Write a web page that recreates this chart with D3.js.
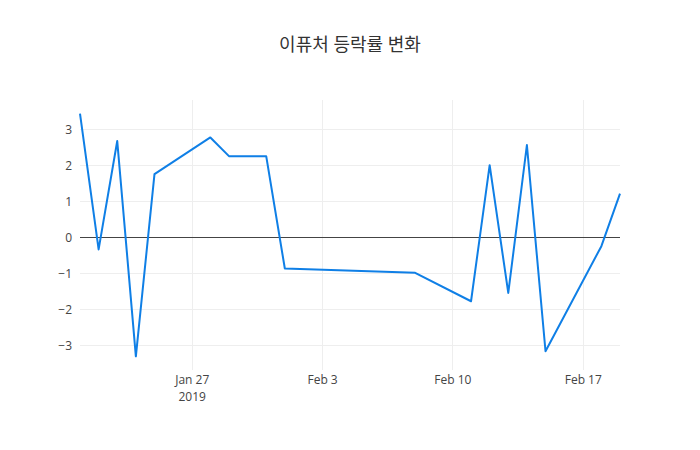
<!DOCTYPE html>
<html>
<head>
<meta charset="utf-8">
<script src="https://cdn.jsdelivr.net/npm/d3@7"></script>
<style>
body { margin: 0; background: #fff; }
svg { display: block; }
</style>
</head>
<body>
<svg id="chart" width="700" height="450"></svg>
<script>
const titleText = "이퓨처 등락률 변화";
const dates = ["2019-01-21","2019-01-22","2019-01-23","2019-01-24","2019-01-25","2019-01-28","2019-01-29","2019-01-31","2019-02-01","2019-02-08","2019-02-11","2019-02-12","2019-02-13","2019-02-14","2019-02-15","2019-02-18","2019-02-19"];
const values = [3.43, -0.34, 2.67, -3.31, 1.75, 2.77, 2.25, 2.25, -0.87, -0.99, -1.78, 2.0, -1.55, 2.56, -3.17, -0.25, 1.21];
const yTicks = [-3, -2, -1, 0, 1, 2, 3];
const xTickDates = ["2019-01-27","2019-02-03","2019-02-10","2019-02-17"];
const xTickLabels = [["Jan 27","2019"],["Feb 3"],["Feb 10"],["Feb 17"]];

const parse = d3.timeParse("%Y-%m-%d");
const data = dates.map((d, i) => ({ date: parse(d), value: values[i] }));

const W = 700, H = 450;
const m = { l: 80, r: 80, t: 100, b: 80 };
const svg = d3.select("#chart");
const font = "'Open Sans', verdana, arial, sans-serif";

const x = d3.scaleTime()
  .domain(d3.extent(data, d => d.date))
  .range([m.l, W - m.r]);
const y = d3.scaleLinear()
  .domain([-3.69, 3.81])
  .range([H - m.b, m.t]);

const crisp = v => Math.round(v) + 0.5;

// grid lines
const g = svg.append("g");
g.selectAll("line.ygrid").data(yTicks.filter(v => v !== 0)).enter().append("line")
  .attr("x1", m.l).attr("x2", W - m.r)
  .attr("y1", d => crisp(y(d))).attr("y2", d => crisp(y(d)))
  .attr("stroke", "#eee").attr("stroke-width", 1);
g.selectAll("line.xgrid").data(xTickDates).enter().append("line")
  .attr("x1", d => crisp(x(parse(d)))).attr("x2", d => crisp(x(parse(d))))
  .attr("y1", m.t).attr("y2", H - m.b)
  .attr("stroke", "#eee").attr("stroke-width", 1);

// zero line
svg.append("line")
  .attr("x1", m.l).attr("x2", W - m.r)
  .attr("y1", crisp(y(0))).attr("y2", crisp(y(0)))
  .attr("stroke", "#444").attr("stroke-width", 1);

// y axis
const yAxis = d3.axisLeft(y).tickValues(yTicks).tickSize(0).tickPadding(8)
  .tickFormat(d => d < 0 ? "\u2212" + Math.abs(d) : String(d));
const ya = svg.append("g").attr("transform", `translate(${m.l},0)`).call(yAxis);
ya.select(".domain").remove();
ya.selectAll("text").attr("fill", "#444").style("font-family", font).style("font-size", "12px");

// x axis
const xAxis = d3.axisBottom(x).tickValues(xTickDates.map(parse)).tickSize(0).tickPadding(0).tickFormat("");
const xa = svg.append("g").attr("transform", `translate(0,${H - m.b})`).call(xAxis);
xa.select(".domain").remove();
xa.selectAll(".tick").each(function(d, i) {
  const t = d3.select(this).append("text")
    .attr("fill", "#444").attr("text-anchor", "middle")
    .style("font-family", font).style("font-size", "12px");
  xTickLabels[i].forEach((line, j) => {
    t.append("tspan").attr("x", 0).attr("y", 14 + j * 17).text(line);
  });
});

// line
const line = d3.line().x(d => x(d.date)).y(d => y(d.value));
svg.append("path").datum(data)
  .attr("d", line)
  .attr("fill", "none")
  .attr("stroke", "#0f7fe6")
  .attr("stroke-width", 2)
  .attr("stroke-linejoin", "round");

// title
svg.append("text")
  .attr("x", W / 2).attr("y", 51)
  .attr("text-anchor", "middle")
  .attr("fill", "#333")
  .style("font-family", "'Open Sans', 'Noto Sans CJK KR', sans-serif")
  .style("font-size", "18px")
  .text(titleText);
</script>
</body>
</html>
